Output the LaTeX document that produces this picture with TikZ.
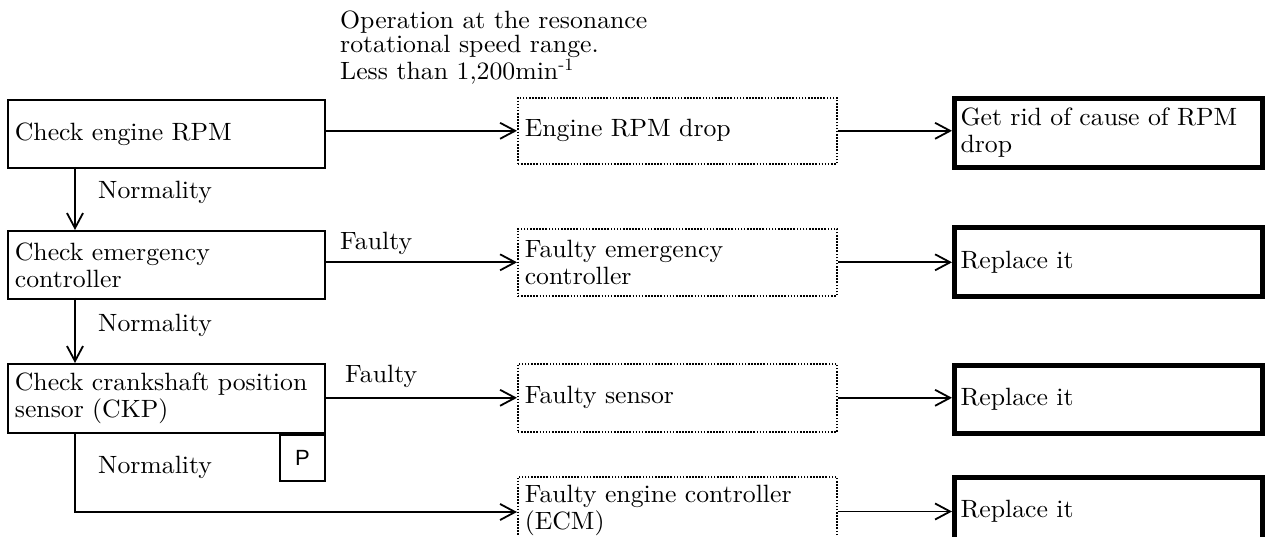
\documentclass[tikz,border=0pt]{standalone}
\usepackage{fontspec}
\setmainfont{lmroman10-regular}[Extension=.otf, FakeStretch=1.03]
\newfontfamily\psans{Liberation Sans}
\usetikzlibrary{arrows.meta,positioning}
\tikzset{
  base/.style={rectangle, line width=1.8pt, anchor=north west, align=left,
    inner xsep=7pt, inner ysep=0pt, font=\fontsize{25}{27}\selectfont},
  checkbox/.style={base, draw, minimum width=317pt, text width=303pt},
  faultbox/.style={base, draw, dash pattern=on 1.6pt off 1.5pt, line width=1.6pt, minimum width=319pt, text width=305pt},
  fixbox/.style={base, draw, line width=5pt, minimum width=308pt, text width=296pt, inner xsep=6pt},
  lbl/.style={anchor=west, inner sep=0pt, font=\fontsize{25}{27}\selectfont},
  arr/.style={line width=1.8pt, -{Straight Barb[length=15pt,width=16pt,line width=1.8pt]}},
  ln/.style={line width=1.8pt}
}
\begin{document}
\begin{tikzpicture}[x=1pt,y=-1pt]
\useasboundingbox (0,0) rectangle (1272,537);
\clip (0,0) rectangle (1272,537);
% left check boxes
\node[checkbox, minimum height=68pt] (c1) at (7,99) {Check engine RPM};
\node[checkbox, minimum height=68pt] (c2) at (7,230) {Check emergency\\controller};
\node[checkbox, minimum height=69pt] (c3) at (7,363) {Check crankshaft position\\sensor (CKP)};
\node[draw, ln, anchor=north east, minimum width=45pt, minimum height=46pt, inner sep=0pt, font=\psans\fontsize{22}{24}\selectfont] (p) at (c3.south east) {P};
% fault boxes
\node[faultbox, minimum height=66pt] (f1) at (517,97) {Engine RPM drop};
\node[faultbox, minimum height=67pt] (f2) at (517,228) {Faulty emergency\\controller};
\node[faultbox, minimum height=68pt] (f3) at (517,363) {Faulty sensor};
\node[faultbox, minimum height=68pt] (f4) at (517,476) {Faulty engine controller\\(ECM)};
% fix boxes
\node[fixbox, minimum height=69pt] (r1) at (952,96) {Get rid of cause of RPM\\drop};
\node[fixbox, minimum height=69pt] (r2) at (952,225) {Replace it};
\node[fixbox, minimum height=68pt] (r3) at (952,363) {Replace it};
\node[fixbox, minimum height=68pt] (r4) at (952,475) {Replace it};
% top note
\node[anchor=north west, align=left, inner sep=0pt, font=\fontsize{25}{24}\selectfont] (note) at (340,11)
  {Operation at the resonance\\rotational speed range.\\Less than 1,200min\textsuperscript{-1}};
% labels
\node[lbl] (n1) at (98,192) {Normality};
\node[lbl] (n2) at (98,325) {Normality};
\node[lbl] (n3) at (98,467) {Normality};
\node[lbl] (fa2) at (340,243) {Faulty};
\node[lbl] (fa3) at (345,376) {Faulty};
% helper coordinates
\coordinate (c1b) at (75,167);
\coordinate (c2b) at (75,298);
\coordinate (c3b) at (75,432);
\coordinate (bend) at (75,512);
% connectors
\draw[arr] (c1.east |- f1.west) -- (f1.west);
\draw[arr] (c2.east |- f2.west) -- (f2.west);
\draw[arr] (c3.east |- f3.west) -- (f3.west);
\draw[arr] (c1b) -- (c1b |- c2.north);
\draw[arr] (c2b) -- (c2b |- c3.north);
\draw[arr] (c3b) -- (bend) -- (bend -| f4.west);
\draw[arr] (f1.east) -- (f1.east -| r1.west);
\draw[arr] (f2.east) -- (f2.east -| r2.west);
\draw[arr] (f3.east) -- (f3.east -| r3.west);
\draw[arr] (f4.east |- r4.west) -- (r4.west);
\end{tikzpicture}
\end{document}
